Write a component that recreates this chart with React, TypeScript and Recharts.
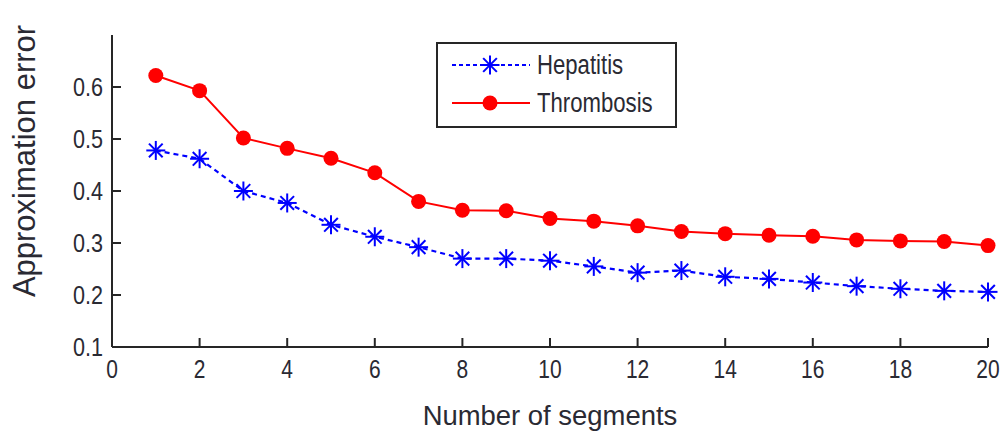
import React from "react";
import { LineChart, Line, XAxis, YAxis, Legend } from "recharts";

const segments = [1, 2, 3, 4, 5, 6, 7, 8, 9, 10, 11, 12, 13, 14, 15, 16, 17, 18, 19, 20];
const hepatitis = [0.478, 0.462, 0.4, 0.377, 0.335, 0.312, 0.292, 0.27, 0.27, 0.266, 0.255, 0.243, 0.247, 0.235, 0.231, 0.224, 0.217, 0.212, 0.208, 0.206];
const thrombosis = [0.622, 0.593, 0.502, 0.482, 0.463, 0.435, 0.38, 0.363, 0.362, 0.347, 0.342, 0.333, 0.322, 0.318, 0.315, 0.313, 0.306, 0.304, 0.303, 0.295];
const xTicks = [0, 2, 4, 6, 8, 10, 12, 14, 16, 18, 20];
const yTicks = [0.1, 0.2, 0.3, 0.4, 0.5, 0.6];

const data = segments.map((s, i) => ({ seg: s, hepatitis: hepatitis[i], thrombosis: thrombosis[i] }));

const FONT = "'Liberation Sans', Arial, sans-serif";
const FRAME = "#262626";
const TXT = "#2a2a33";
const BLUE = "#0000ff";
const RED = "#ff0000";

// matlab style '*' marker
function Star({ cx, cy, r = 9.5 }: any) {
    const d = r * 0.72;
    return (
        <g stroke={BLUE} strokeWidth={2}>
            <line x1={cx - r} y1={cy} x2={cx + r} y2={cy} />
            <line x1={cx} y1={cy - r} x2={cx} y2={cy + r} />
            <line x1={cx - d} y1={cy - d} x2={cx + d} y2={cy + d} />
            <line x1={cx - d} y1={cy + d} x2={cx + d} y2={cy - d} />
        </g>
    );
}

function HepDot(props: any) {
    const { cx, cy, index } = props;
    if (cx == null || cy == null) return null;
    return <Star key={index} cx={cx} cy={cy} />;
}

function ThrDot(props: any) {
    const { cx, cy, index } = props;
    if (cx == null || cy == null) return null;
    return <circle key={index} cx={cx} cy={cy} r={7.5} fill={RED} />;
}

// squeeze text horizontally around an anchor x
const squeeze = (x: number, k: number) => `translate(${x} 0) scale(${k} 1) translate(${-x} 0)`;

// inward ticks, like the matlab box
function BottomTick({ x, y, payload }: any) {
    return (
        <g>
            <line x1={x} y1={y} x2={x} y2={y - 9} stroke={FRAME} strokeWidth={2} />
            <text x={x} y={y + 31} textAnchor="middle" fontSize={25} fontFamily={FONT} fill={TXT}
                transform={squeeze(x, 0.84)}>
                {payload.value}
            </text>
        </g>
    );
}

function TopTick({ x, y }: any) {
    return <line x1={x} y1={y} x2={x} y2={y + 9} stroke={FRAME} strokeWidth={2} />;
}

function LeftTick({ x, y, payload }: any) {
    const tx = x - 9;
    return (
        <g>
            <line x1={x} y1={y} x2={x + 9} y2={y} stroke={FRAME} strokeWidth={2} />
            <text x={tx} y={y + 9.5} textAnchor="end" fontSize={26} fontFamily={FONT} fill={TXT}
                transform={squeeze(tx, 0.83)}>
                {payload.value}
            </text>
        </g>
    );
}

function RightTick({ x, y }: any) {
    return <line x1={x} y1={y} x2={x - 9} y2={y} stroke={FRAME} strokeWidth={2} />;
}

function XTitle({ viewBox }: any) {
    const cx = viewBox.x + viewBox.width / 2;
    return (
        <text x={cx} y={425} textAnchor="middle" fontSize={28} fontFamily={FONT} fill={TXT}
            transform={squeeze(cx, 0.98)}>
            Number of segments
        </text>
    );
}

function YTitle() {
    return (
        <text x={35} y={161} textAnchor="middle" fontSize={31} fontFamily={FONT} fill={TXT}
            transform="rotate(-90 35 161)">
            Approximation error
        </text>
    );
}

function LegendBox() {
    const row = (label: string, y: number, dashed: boolean) => (
        <div style={{ position: "absolute", left: 12, top: y - 16, height: 32, display: "flex", alignItems: "center" }}>
            <svg width={82} height={32} style={{ display: "block" }}>
                <line x1={2} y1={16} x2={80} y2={16} stroke={dashed ? BLUE : RED} strokeWidth={2}
                    strokeDasharray={dashed ? "4 3" : undefined} />
                {dashed ? <Star cx={40} cy={16} /> : <circle cx={40} cy={16} r={7.5} fill={RED} />}
            </svg>
            <span style={{ marginLeft: 5, fontFamily: FONT, fontSize: 27, color: TXT, display: "inline-block", transform: "scaleX(0.82)", transformOrigin: "left center", whiteSpace: "nowrap" }}>
                {label}
            </span>
        </div>
    );
    return (
        <div style={{ position: "relative", width: 237, height: 82, border: `2px solid ${FRAME}`, background: "#fff" }}>
            {row("Hepatitis", 21, true)}
            {row("Thrombosis", 59, false)}
        </div>
    );
}

export default function App() {
    return (
        <div style={{ width: 1003, height: 433, background: "#fff" }}>
            <style>{"body{margin:0}"}</style>
            <LineChart width={1003} height={433} data={data} margin={{ top: 35, right: 15, bottom: 0, left: 0 }}>
                <XAxis dataKey="seg" type="number" domain={[0, 20]} ticks={xTicks} interval={0}
                    height={86} tickSize={0} tickMargin={0} tick={<BottomTick />}
                    axisLine={{ stroke: FRAME, strokeWidth: 2 }} label={<XTitle />} />
                <XAxis xAxisId="top" orientation="top" dataKey="seg" type="number" domain={[0, 20]} ticks={xTicks.slice(1, -1)}
                    interval={0} height={0} tickSize={0} tickMargin={0} tick={<TopTick />}
                    axisLine={{ stroke: FRAME, strokeWidth: 2 }} />
                <YAxis type="number" domain={[0.1, 0.7]} ticks={yTicks} interval={0} width={112}
                    tickSize={0} tickMargin={0} tick={<LeftTick />}
                    axisLine={{ stroke: FRAME, strokeWidth: 2 }} label={<YTitle />} />
                <YAxis yAxisId="right" orientation="right" type="number" domain={[0.1, 0.7]} ticks={yTicks.slice(1)}
                    interval={0} width={0} tickSize={0} tickMargin={0} tick={<RightTick />}
                    axisLine={{ stroke: FRAME, strokeWidth: 2 }} />
                <Legend layout="vertical" align="center" verticalAlign="middle" content={<LegendBox />}
                    wrapperStyle={{ position: "absolute", left: 436, top: 42, width: 241, height: 86, bottom: "auto", right: "auto" }} />
                <Line dataKey="hepatitis" name="Hepatitis" stroke={BLUE} strokeWidth={2.2} strokeDasharray="5 4"
                    dot={<HepDot />} activeDot={false} isAnimationActive={false} />
                <Line dataKey="thrombosis" name="Thrombosis" stroke={RED} strokeWidth={2}
                    dot={<ThrDot />} activeDot={false} isAnimationActive={false} />
            </LineChart>
        </div>
    );
}
